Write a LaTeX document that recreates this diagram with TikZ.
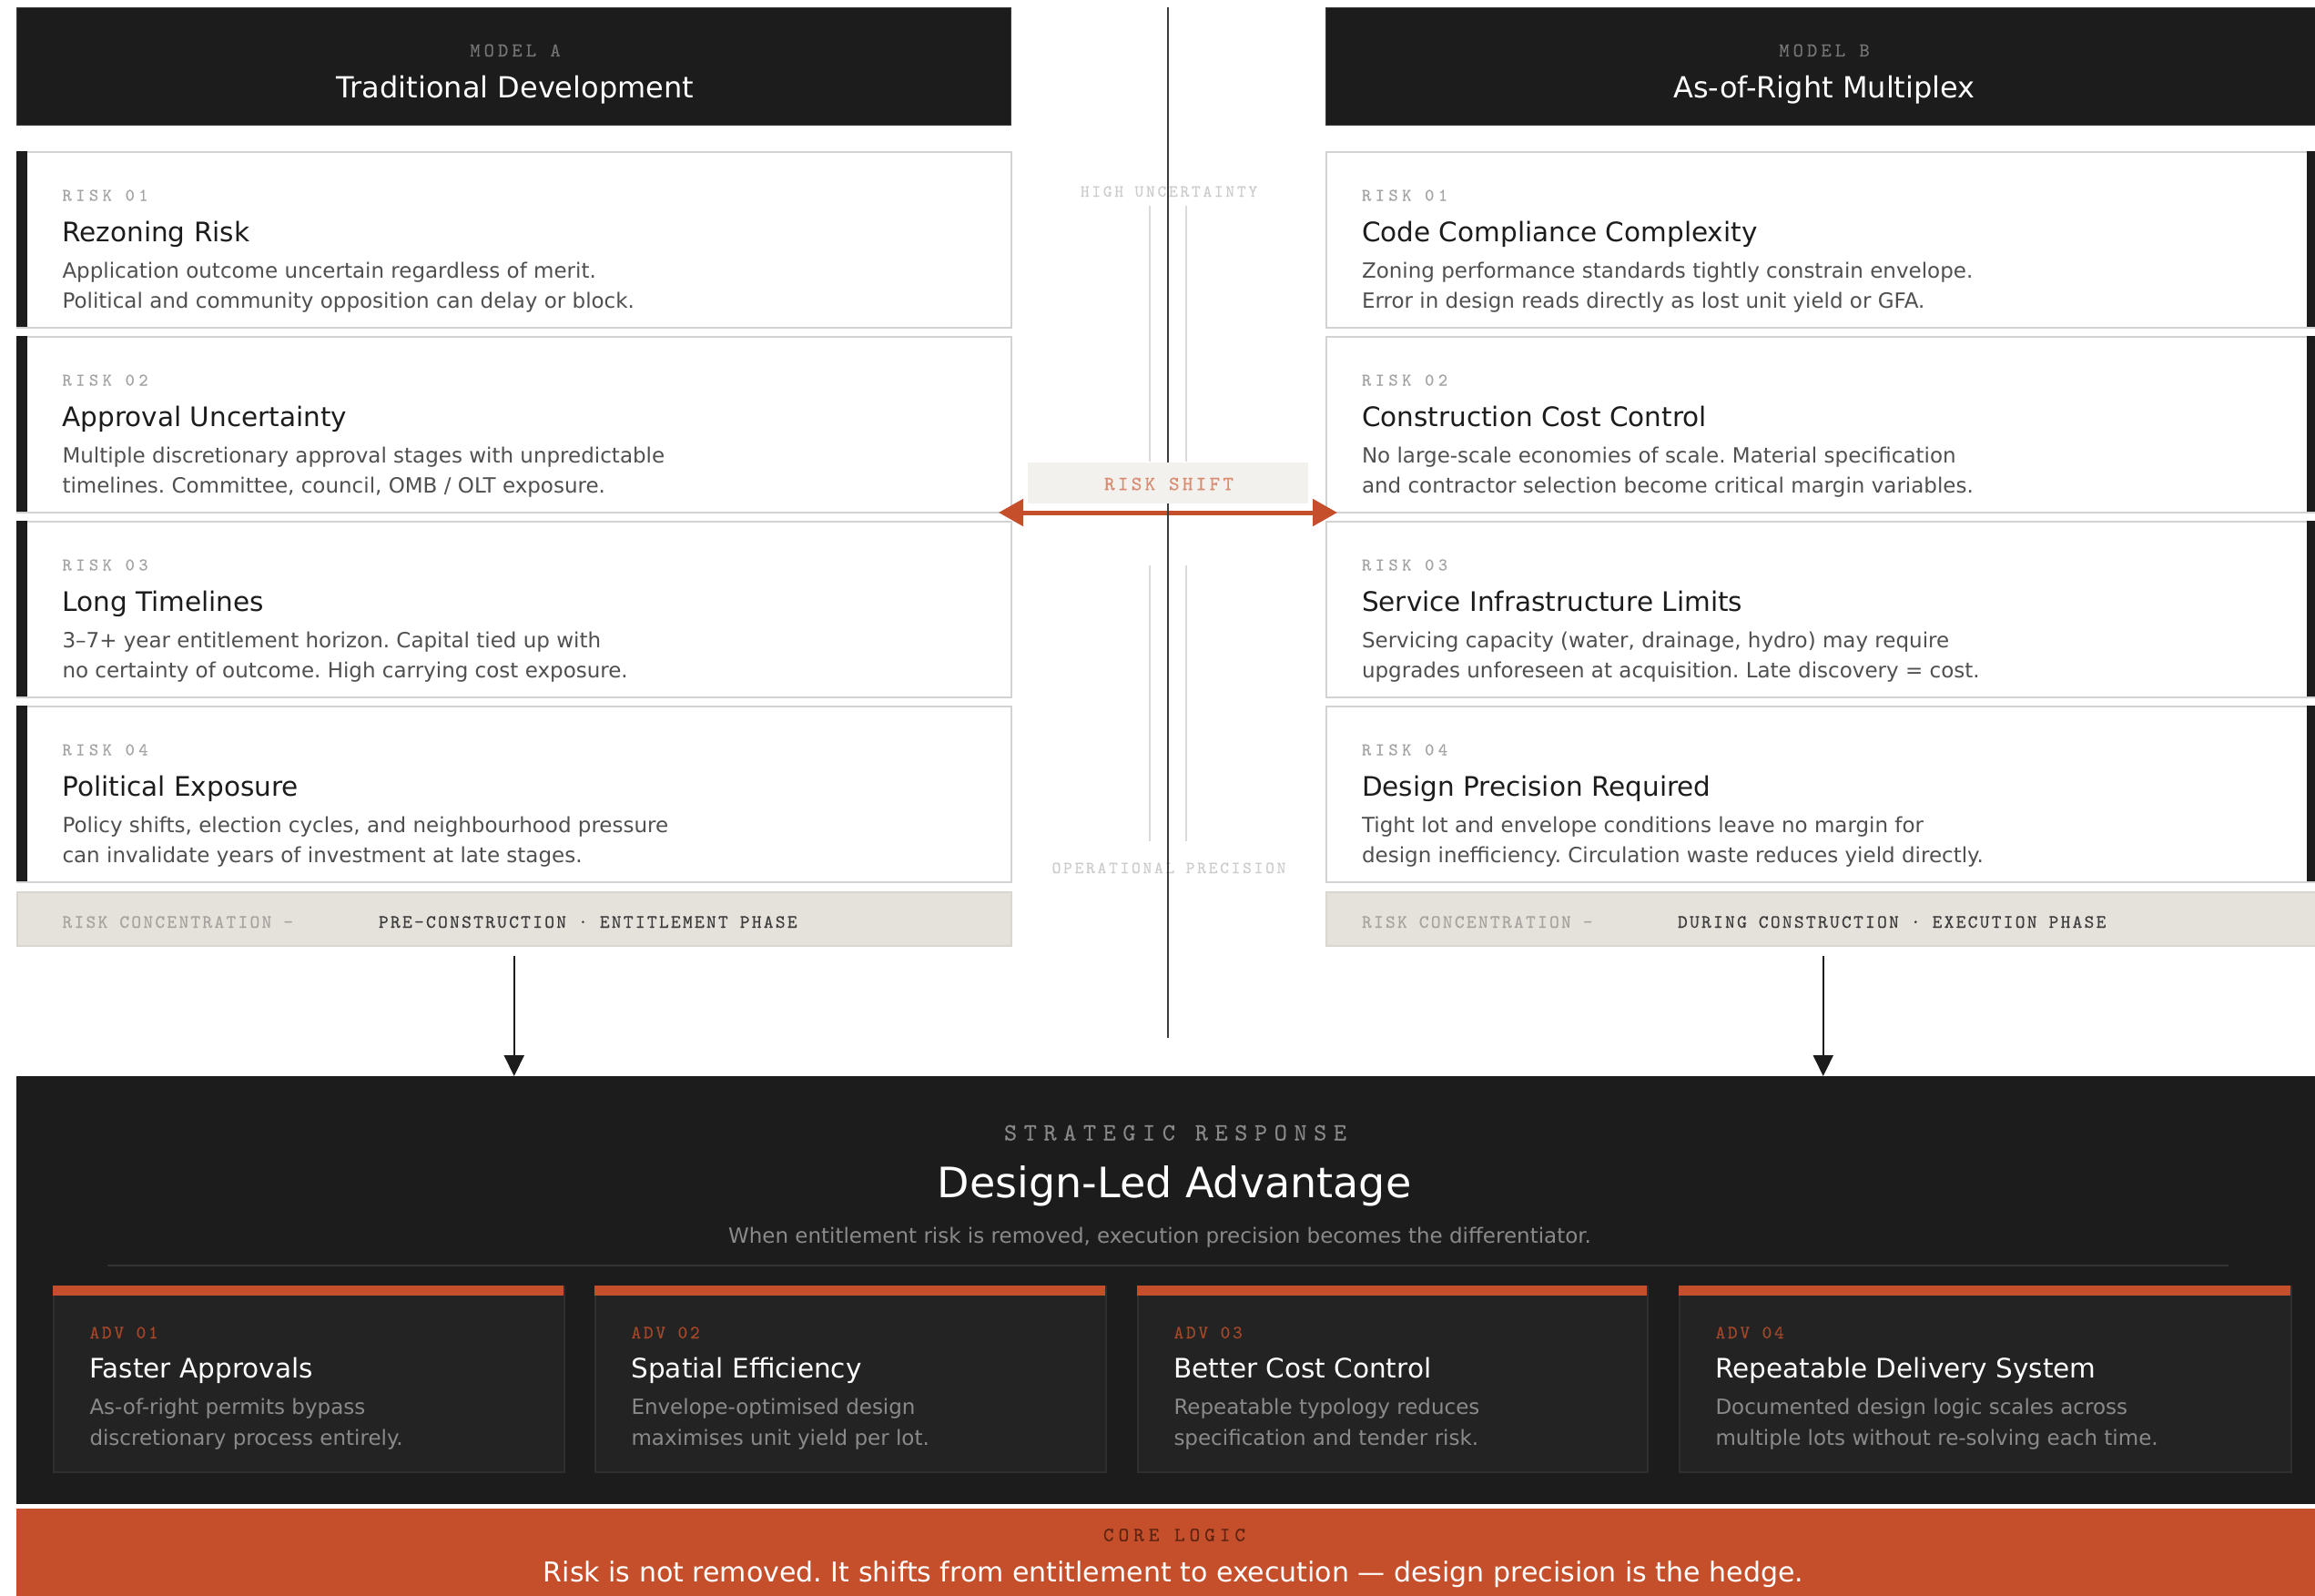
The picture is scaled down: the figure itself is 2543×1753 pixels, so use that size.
\documentclass[tikz,border=0pt]{standalone}
\usepackage{fontspec}
\setmainfont{DejaVu Sans}
\newfontfamily\monofam{lmmono10-regular.otf}[FakeBold=0.35]
\usetikzlibrary{arrows.meta,calc}
\frenchspacing

% palette
\definecolor{ink}{HTML}{1C1C1C}
\definecolor{cardline}{HTML}{D2D2D2}
\definecolor{lblgray}{HTML}{A3A3A3}
\definecolor{bodygray}{HTML}{505050}
\definecolor{hdrlbl}{HTML}{747474}
\definecolor{concfill}{HTML}{E5E1DB}
\definecolor{concline}{HTML}{D9D5CF}
\definecolor{conclbl}{HTML}{A7A29D}
\definecolor{conctxt}{HTML}{3C3C3C}
\definecolor{axis}{HTML}{3C3C3C}
\definecolor{guide}{HTML}{DADADA}
\definecolor{faint}{HTML}{CCCCCC}
\definecolor{shiftfill}{HTML}{F2F1EE}
\definecolor{shifttxt}{HTML}{D98B70}
\definecolor{accent}{HTML}{C64F2B}
\definecolor{advfill}{HTML}{232323}
\definecolor{advline}{HTML}{2F2F2F}
\definecolor{advtag}{HTML}{A3472A}
\definecolor{advbody}{HTML}{8A8A8A}
\definecolor{subgray}{HTML}{8A8A8A}
\definecolor{rulegray}{HTML}{333333}
\definecolor{strattxt}{HTML}{888888}
\definecolor{coretag}{HTML}{5E2412}

% letter-spaced monospace label: size, tracking (percent of size), text
\newcommand\spacedmono[3]{{\monofam\fontsize{#1}{#1}\selectfont\addfontfeatures{LetterSpace=#2}#3}}
\newcommand\sanstext[2]{{\fontsize{#1}{#1}\selectfont #2}}

\tikzset{
  txt/.style={inner sep=0pt, outer sep=0pt, anchor=base west},
  ctxt/.style={inner sep=0pt, outer sep=0pt, anchor=base},
  hdrbox/.style={fill=ink, draw=axis, line width=1pt, minimum width=1092pt,
    minimum height=129pt, inner sep=0pt, anchor=north west},
  riskbox/.style={draw=cardline, line width=2pt, fill=white, minimum width=1092pt,
    minimum height=193pt, inner sep=0pt, anchor=north west},
  concbox/.style={fill=concfill, draw=concline, line width=1.5pt, minimum width=1092pt,
    minimum height=59pt, inner sep=0pt, anchor=north west},
  shiftbox/.style={fill=shiftfill, minimum width=308pt, minimum height=45pt, inner sep=0pt},
  guideline/.style={draw=guide, line width=1.5pt},
  axisline/.style={draw=axis, line width=2.7pt},
  shiftarrow/.style={draw=accent, line width=5pt,
    {Triangle[length=27pt,width=29pt]}-{Triangle[length=27pt,width=29pt]}},
  downarrow/.style={draw=ink, line width=2pt, -{Triangle[length=23pt,width=22pt]}},
  darkpanel/.style={fill=ink, minimum width=2600pt, minimum height=470pt,
    inner sep=0pt, anchor=north west},
  advbox/.style={fill=advfill, draw=advline, line width=1.5pt, minimum height=204pt,
    inner sep=0pt, anchor=north west},
  corebox/.style={fill=accent, minimum width=2600pt, minimum height=120pt,
    inner sep=0pt, anchor=north west},
}

% risk card: name, box x, top y, bar x, text x, tag, title, line 1, line 2
\newcommand\riskcard[9]{%
  \node[riskbox] (#1) at (#2,#3) {};
  \fill[ink] (#4,#3) rectangle ++(12,193);
  \node[txt, text=lblgray] (#1-tag) at (#5,#3+54.5) {\spacedmono{19.5}{23}{#6}};
  \node[txt, text=ink] (#1-head) at (#5,#3+99) {\sanstext{29.5}{#7}};
  \node[txt, text=bodygray] (#1-a) at (#5,#3+139) {\sanstext{23}{#8}};
  \node[txt, text=bodygray] (#1-b) at (#5,#3+172.5) {\sanstext{23}{#9}};
}

% advantage card: name, left x, width, tag, title, line 1, line 2
\newcommand\advcard[7]{%
  \node[advbox, minimum width=#3pt] (#1) at (#2,1412) {};
  \fill[accent] (#2,1412) rectangle ++(#3,11);
  \node[txt, text=advtag] (#1-tag) at (#2+40.5,1470) {\spacedmono{20.5}{13}{#4}};
  \node[txt, text=white] (#1-head) at (#2+40.5,1513.5) {\sanstext{29.5}{#5}};
  \node[txt, text=advbody] (#1-a) at (#2+40.5,1553) {\sanstext{23}{#6}};
  \node[txt, text=advbody] (#1-b) at (#2+40.5,1587.5) {\sanstext{23}{#7}};
}

\begin{document}
\begin{tikzpicture}[x=1pt, y=-1pt]
\useasboundingbox (0,0) rectangle (2543,1753);
\fill[white] (0,0) rectangle (2543,1753);

% ---- column headers
\node[hdrbox] (hA) at (18,8) {};
\node[ctxt, text=hdrlbl] (hA-tag) at (566,62) {\spacedmono{21.5}{19}{MODEL A}};
\node[ctxt, text=white] (hA-title) at (566,107) {\sanstext{32}{Traditional Development}};

\node[hdrbox] (hB) at (1456,8) {};
\node[ctxt, text=hdrlbl] (hB-tag) at (2004,62) {\spacedmono{21.5}{19}{MODEL B}};
\node[ctxt, text=white] (hB-title) at (2004,107) {\sanstext{32}{As-of-Right Multiplex}};

% ---- traditional development risks
\riskcard{rA1}{18}{166}{18}{68.5}{RISK 01}{Rezoning Risk}
  {Application outcome uncertain regardless of merit.}
  {Political and community opposition can delay or block.}
\riskcard{rA2}{18}{369}{18}{68.5}{RISK 02}{Approval Uncertainty}
  {Multiple discretionary approval stages with unpredictable}
  {timelines. Committee, council, OMB / OLT exposure.}
\riskcard{rA3}{18}{572}{18}{68.5}{RISK 03}{Long Timelines}
  {3–7+ year entitlement horizon. Capital tied up with}
  {no certainty of outcome. High carrying cost exposure.}
\riskcard{rA4}{18}{775}{18}{68.5}{RISK 04}{Political Exposure}
  {Policy shifts, election cycles, and neighbourhood pressure}
  {can invalidate years of investment at late stages.}

% ---- as-of-right multiplex risks
\riskcard{rB1}{1456}{166}{2534}{1496}{RISK 01}{Code Compliance Complexity}
  {Zoning performance standards tightly constrain envelope.}
  {Error in design reads directly as lost unit yield or GFA.}
\riskcard{rB2}{1456}{369}{2534}{1496}{RISK 02}{Construction Cost Control}
  {No large-scale economies of scale. Material specification}
  {and contractor selection become critical margin variables.}
\riskcard{rB3}{1456}{572}{2534}{1496}{RISK 03}{Service Infrastructure Limits}
  {Servicing capacity (water, drainage, hydro) may require}
  {upgrades unforeseen at acquisition. Late discovery = cost.}
\riskcard{rB4}{1456}{775}{2534}{1496}{RISK 04}{Design Precision Required}
  {Tight lot and envelope conditions leave no margin for}
  {design inefficiency. Circulation waste reduces yield directly.}

% ---- risk concentration strips
\node[concbox] (cA) at (18,979) {};
\node[txt, text=conclbl] (cA-tag) at (68.5,1019) {\spacedmono{20.5}{11}{RISK CONCENTRATION —}};
\node[txt, text=conctxt] (cA-phase) at (416,1019) {\spacedmono{20.5}{11}{PRE-CONSTRUCTION · ENTITLEMENT PHASE}};

\node[concbox] (cB) at (1456,979) {};
\node[txt, text=conclbl] (cB-tag) at (1496,1019) {\spacedmono{20.5}{11}{RISK CONCENTRATION —}};
\node[txt, text=conctxt] (cB-phase) at (1843,1019) {\spacedmono{20.5}{11}{DURING CONSTRUCTION · EXECUTION PHASE}};

% ---- central axis
\node[ctxt, text=faint] (axis-hi) at (1284,216) {\spacedmono{18.5}{15}{HIGH UNCERTAINTY}};
\node[ctxt, text=faint] (axis-lo) at (1284,959) {\spacedmono{18.5}{15}{OPERATIONAL PRECISION}};

\coordinate (gL1) at (1263,226); \coordinate (gL2) at (1263,507);
\coordinate (gR1) at (1303,226); \coordinate (gR2) at (1303,507);
\coordinate (gL3) at (1263,621); \coordinate (gL4) at (1263,924);
\coordinate (gR3) at (1303,621); \coordinate (gR4) at (1303,924);
\draw[guideline] (gL1) -- (gL2);
\draw[guideline] (gR1) -- (gR2);
\draw[guideline] (gL3) -- (gL4);
\draw[guideline] (gR3) -- (gR4);

\coordinate (shiftL) at (1097,563);
\coordinate (shiftR) at (1469,563);
\draw[shiftarrow] (shiftL) -- (shiftR);

\coordinate (axisTop) at (1283,8);
\coordinate (axisBot) at (1283,1140);
\draw[axisline] (axisTop) -- (axisBot);

\node[shiftbox] (shift) at (1283,530.5) {};
\node[ctxt, text=shifttxt] (shift-tag) at (1284,538.3) {\spacedmono{22}{15}{RISK SHIFT}};

% ---- strategic response panel
\node[darkpanel] (strat) at (18,1182) {};
\draw[downarrow] ([yshift=-10pt]cA.south) -- (cA.south |- strat.north);
\draw[downarrow] ([yshift=-10pt]cB.south) -- (cB.south |- strat.north);

\node[ctxt, text=strattxt] (strat-tag) at (1291,1252.5) {\spacedmono{27}{28}{STRATEGIC RESPONSE}};
\node[ctxt, text=white] (strat-title) at (1290,1315) {\sanstext{46}{Design-Led Advantage}};
\node[ctxt, text=subgray] (strat-sub) at (1274,1365) {\sanstext{23}{When entitlement risk is removed, execution precision becomes the differentiator.}};
\coordinate (ruleL) at (118,1390);
\coordinate (ruleR) at (2448,1390);
\draw[draw=rulegray, line width=2pt] (ruleL) -- (ruleR);

\advcard{adv1}{58}{561}{ADV 01}{Faster Approvals}
  {As-of-right permits bypass}{discretionary process entirely.}
\advcard{adv2}{653}{561}{ADV 02}{Spatial Efficiency}
  {Envelope-optimised design}{maximises unit yield per lot.}
\advcard{adv3}{1249}{560}{ADV 03}{Better Cost Control}
  {Repeatable typology reduces}{specification and tender risk.}
\advcard{adv4}{1844}{672}{ADV 04}{Repeatable Delivery System}
  {Documented design logic scales across}{multiple lots without re-solving each time.}

% ---- core logic band
\node[corebox] (core) at (18,1657) {};
\node[ctxt, text=coretag] (core-tag) at (1290,1692.7) {\spacedmono{22}{23}{CORE LOGIC}};
\node[ctxt, text=white] (core-text) at (1289,1737) {\sanstext{30}{Risk is not removed. It shifts from entitlement to execution — design precision is the hedge.}};
\end{tikzpicture}
\end{document}
